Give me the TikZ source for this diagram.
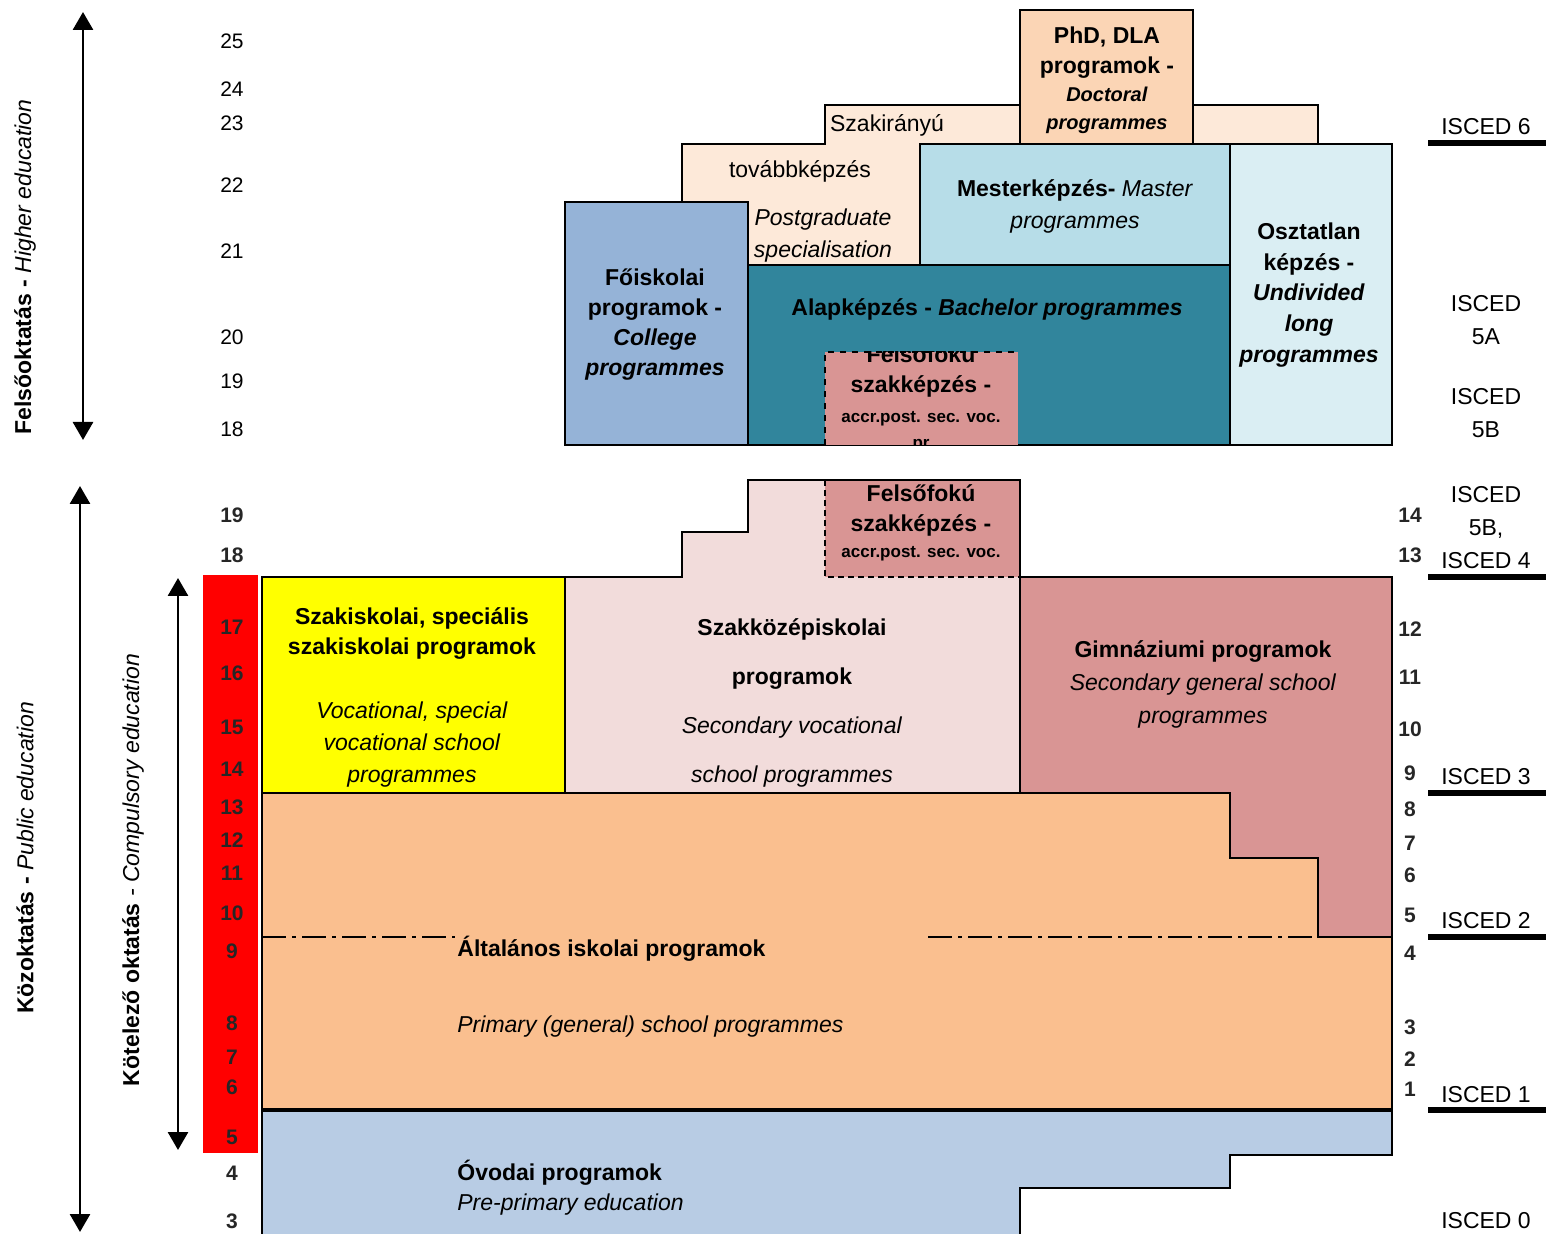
\documentclass[tikz,border=0pt]{standalone}
\usepackage{fontspec}
\setmainfont{Liberation Sans}
\usetikzlibrary{shapes,arrows,arrows.meta,fit,positioning}

\definecolor{college}{HTML}{95B3D7}
\definecolor{postgrad}{HTML}{FDE9D9}
\definecolor{doctoral}{HTML}{FBD5B5}
\definecolor{master}{HTML}{B7DDE8}
\definecolor{bachelor}{HTML}{31859C}
\definecolor{undivided}{HTML}{DAEEF3}
\definecolor{postsec}{HTML}{D99594}
\definecolor{vocyellow}{HTML}{FFFF00}
\definecolor{secvoc}{HTML}{F2DCDB}
\definecolor{gymnasium}{HTML}{D99594}
\definecolor{primary}{HTML}{FABF8F}
\definecolor{preprimary}{HTML}{B8CCE4}
\definecolor{compulsory}{HTML}{FF0000}

\newcommand{\bi}[1]{\textbf{\textit{#1}}}

\begin{document}
\begin{tikzpicture}[x=0.5pt,y=-0.5pt,
  box/.style={draw=black,line width=0.9pt},
  txt/.style={align=center,inner sep=0pt,font=\fontsize{11.5}{15}\selectfont},
  age/.style={inner sep=0pt,font=\fontsize{10.5}{12}\selectfont},
  boldage/.style={age,font=\bfseries\fontsize{10.5}{12}\selectfont,text=black!85},
  isced/.style={inner sep=0pt,align=center,font=\fontsize{11.5}{16.5}\selectfont},
  level/.style={line width=2.6pt},
  span/.style={line width=1.4pt,{Triangle[width=10pt,length=9pt]}-{Triangle[width=10pt,length=9pt]}},
  sidelabel/.style={rotate=90,inner sep=0pt,font=\fontsize{11.5}{14}\selectfont},
  dashdot/.style={line width=1pt,dash pattern=on 12pt off 3pt on 2pt off 3pt}]
\useasboundingbox (0,0) rectangle (1546,1234);

% higher education
\draw[box,fill=postgrad] (682,202) -- (682,144) -- (825,144) -- (825,105) -- (1318,105)
  -- (1318,144) -- (920,144) -- (920,265) -- (748,265) -- (748,202) -- cycle;
\draw[box,fill=doctoral] (1020,144) rectangle (1193,10);
\draw[box,fill=master] (920,144) rectangle (1230,265);
\draw[box,fill=bachelor] (748,265) rectangle (1230,445);
\fill[postsec] (825,352) rectangle (1018,445);
\draw[line width=0.9pt,dashed] (825,445) -- (825,352) -- (1018,352);
\draw[box,fill=college] (565,202) rectangle (748,445);
\draw[box,fill=undivided] (1230,144) rectangle (1392,445);

\node[txt] (phd) at (1107,80) {\textbf{PhD, DLA}\\ \textbf{programok -}\\[-1pt]
  {\fontsize{10}{12}\selectfont\bi{Doctoral}}\\[-1pt] {\fontsize{10}{12}\selectfont\bi{programmes}}};
\node[txt] (szakir) at (887,125) {Szakirányú};
\node[txt] (tovabb) at (800,171) {továbbképzés};
\node[txt,font=\fontsize{11.5}{16}\selectfont] (postgr) at (823,236) {\textit{Postgraduate}\\ \textit{specialisation}};
\node[txt,font=\fontsize{11.5}{16}\selectfont] (mester) at (1075,206) {\textbf{Mesterképzés-} \textit{Master}\\ \textit{programmes}};
\node[txt] (alap) at (987,309) {\textbf{Alapképzés -} \bi{Bachelor programmes}};
\node[txt] (foisk) at (655,325) {\textbf{Főiskolai}\\ \textbf{programok -}\\ \bi{College}\\ \bi{programmes}};
\node[txt,font=\fontsize{11.5}{15.3}\selectfont] (osztat) at (1309,295) {\textbf{Osztatlan}\\ \textbf{képzés -}\\ \bi{Undivided}\\ \bi{long}\\ \bi{programmes}};
\begin{scope}
  \clip (825,352) rectangle (1018,445);
  \node[txt] (fsUp) at (921,399) {\textbf{Felsőfokú}\\ \textbf{szakképzés -}\\
    {\bfseries\fontsize{8.5}{12}\selectfont accr.post. sec. voc.}\\[-2pt] {\bfseries\fontsize{8.5}{12}\selectfont pr}};
\end{scope}

% public education
\draw[box,fill=secvoc] (565,793) -- (565,577) -- (682,577) -- (682,532) -- (748,532)
  -- (748,480) -- (1020,480) -- (1020,793) -- cycle;
\fill[postsec] (825,480) rectangle (1020,577);
\draw[line width=0.9pt,densely dashed] (825,480) -- (825,577) -- (1020,577);
\draw[box] (825,480) -- (1020,480) -- (1020,577);
\draw[box,fill=vocyellow] (262,577) rectangle (565,793);
\draw[box,fill=gymnasium] (1020,577) -- (1392,577) -- (1392,937) -- (1318,937) -- (1318,858)
  -- (1230,858) -- (1230,793) -- (1020,793) -- cycle;
\draw[box,fill=primary] (262,793) -- (1230,793) -- (1230,858) -- (1318,858) -- (1318,937)
  -- (1392,937) -- (1392,1110) -- (262,1110) -- cycle;
\draw[dashdot] (262,937) -- (455,937);
\draw[dashdot] (928,937) -- (1392,937);
\filldraw[box,fill=preprimary] (262,1234) -- (262,1110) -- (1392,1110) -- (1392,1155) -- (1230,1155)
  -- (1230,1188) -- (1020,1188) -- (1020,1234);
\draw[line width=1.6pt] (262,1110) -- (1392,1110);
\fill[compulsory] (203,575) rectangle (258,1153);

\node[txt] (fsLow) at (921,523) {\textbf{Felsőfokú}\\ \textbf{szakképzés -}\\[-2pt]
  {\bfseries\fontsize{8.5}{12}\selectfont accr.post. sec. voc.}};
\node[txt] (szakisk) at (412,634) {\textbf{Szakiskolai, speciális}\\ \textbf{szakiskolai programok}};
\node[txt,font=\fontsize{11.5}{16}\selectfont] (vocat) at (412,745) {\textit{Vocational, special}\\ \textit{vocational school}\\ \textit{programmes}};
\node[txt,font=\fontsize{11.5}{24.5}\selectfont] (szakkoz) at (792,703) {\textbf{Szakközépiskolai}\\ \textbf{programok}\\ \textit{Secondary vocational}\\ \textit{school programmes}};
\node[txt,font=\fontsize{11.5}{16.5}\selectfont] (gimn) at (1203,684) {\textbf{Gimnáziumi programok}\\ \textit{Secondary general school}\\ \textit{programmes}};
\node[txt,anchor=west] (altal) at (457,949) {\textbf{Általános iskolai programok}};
\node[txt,anchor=west] (primprog) at (457,1027) {\textit{Primary (general) school programmes}};
\node[txt,anchor=west] (ovodai) at (457,1173) {\textbf{Óvodai programok}};
\node[txt,anchor=west] (preprog) at (457,1205) {\textit{Pre-primary education}};

% ages and grades
\foreach \a/\y in {25/41,24/89,23/123,22/185,21/251,20/337,19/381,18/429}
  \node[age] (hage\a) at (232,\y) {\a};
\foreach \a/\y in {19/515,18/555,17/627,16/673,15/727,14/769,13/807,12/840,11/873,10/913,9/951,8/1023,7/1057,6/1087,5/1137,4/1173,3/1221}
  \node[boldage] (page\a) at (232,\y) {\a};
\foreach \g/\y in {14/515,13/555,12/629,11/677,10/729,9/773,8/809,7/843,6/875,5/915,4/953,3/1027,2/1059,1/1089}
  \node[boldage] (grade\g) at (1410,\y) {\g};

% ISCED levels
\node[isced] (isc6) at (1486,127) {ISCED 6};
\node[isced] (isc5a) at (1486,320) {ISCED\\ 5A};
\node[isced] (isc5b) at (1486,413) {ISCED\\ 5B};
\node[isced] (isc4) at (1486,528) {ISCED\\ 5B,\\ ISCED 4};
\node[isced] (isc3) at (1486,777) {ISCED 3};
\node[isced] (isc2) at (1486,921) {ISCED 2};
\node[isced] (isc1) at (1486,1095) {ISCED 1};
\node[isced] (isc0) at (1486,1221) {ISCED 0};
\foreach \y in {143,577,793,937,1110}
  \draw[level] (1428,\y) -- (1546,\y);

% side arrows
\coordinate (heTop) at (83,12);
\coordinate (heBot) at (83,440);
\coordinate (peTop) at (80,486);
\coordinate (peBot) at (80,1232);
\coordinate (ceTop) at (178,578);
\coordinate (ceBot) at (178,1150);
\draw[span] (heTop) -- (heBot);
\draw[span] (peTop) -- (peBot);
\draw[span] (ceTop) -- (ceBot);
\node[sidelabel] (heLabel) at (25,267) {\textbf{Felsőoktatás -} \textit{Higher education}};
\node[sidelabel] (peLabel) at (25,858) {\textbf{Közoktatás -} \textit{Public education}};
\node[sidelabel] (ceLabel) at (133,870) {\textbf{Kötelező oktatás} \textit{- Compulsory education}};
\end{tikzpicture}
\end{document}
